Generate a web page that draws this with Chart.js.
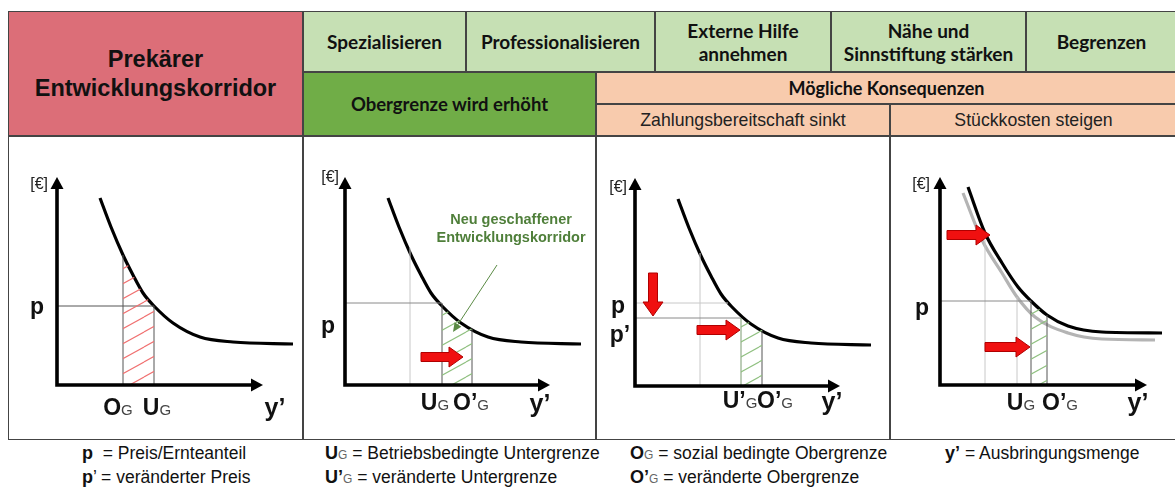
<!DOCTYPE html>
<html lang="de">
<head>
<meta charset="utf-8">
<title>Prekärer Entwicklungskorridor</title>
<script src="https://cdn.jsdelivr.net/npm/chart.js@4.4.1/dist/chart.umd.min.js"></script>
<style>
body{margin:0;width:1175px;height:487px;overflow:hidden;background:#fff;position:relative;font-family:"Liberation Sans",Arial,sans-serif;}
.z{position:absolute;box-sizing:border-box;border:1px solid #444;display:flex;align-items:center;justify-content:center;text-align:center;color:#111;}
.rot{background:#dc6e78;font-weight:700;font-size:23.5px;line-height:29px;}
.hg{background:#c6e0b4;font-family:Lato,sans-serif;font-weight:700;font-size:19px;line-height:23px;}
.dg{background:#70ad47;font-family:Lato,sans-serif;font-weight:700;font-size:18.5px;}
.or{background:#f8cbad;}
.orb{font-family:Lato,sans-serif;font-weight:700;font-size:18px;}
.orn{font-size:17.7px;color:#222;}
.pn{background:#fff;}
canvas{position:absolute;}
.lg{position:absolute;font-size:17.5px;line-height:20px;color:#111;white-space:nowrap;}
.lg b{font-size:18px;}
.lg .s{font-size:12px;color:#666;}
</style>
</head>
<body>
<div class="z rot" style="left:8px;top:11px;width:295px;height:125px">Prekärer<br>Entwicklungskorridor</div>
<div class="z hg" style="left:303px;top:11px;width:163px;height:61px">Spezialisieren</div>
<div class="z hg" style="left:466px;top:11px;width:189px;height:61px">Professionalisieren</div>
<div class="z hg" style="left:655px;top:11px;width:176px;height:61px">Externe Hilfe<br>annehmen</div>
<div class="z hg" style="left:831px;top:11px;width:195px;height:61px">Nähe und<br>Sinnstiftung stärken</div>
<div class="z hg" style="left:1026px;top:11px;width:151px;height:61px">Begrenzen</div>
<div class="z dg" style="left:303px;top:72px;width:293px;height:64px">Obergrenze wird erhöht</div>
<div class="z or orb" style="left:596px;top:72px;width:581px;height:32px">Mögliche Konsequenzen</div>
<div class="z or orn" style="left:596px;top:104px;width:294px;height:32px">Zahlungsbereitschaft sinkt</div>
<div class="z or orn" style="left:890px;top:104px;width:287px;height:32px">Stückkosten steigen</div>
<div class="z pn" style="left:8px;top:136px;width:295px;height:304px"></div>
<div class="z pn" style="left:303px;top:136px;width:293px;height:304px"></div>
<div class="z pn" style="left:596px;top:136px;width:294px;height:304px"></div>
<div class="z pn" style="left:890px;top:136px;width:287px;height:304px"></div>

<canvas id="c1"></canvas>
<canvas id="c2"></canvas>
<canvas id="c3"></canvas>
<canvas id="c4"></canvas>

<div class="lg" style="left:82px;top:443px"><b>p</b>&nbsp; = Preis/Ernteanteil</div>
<div class="lg" style="left:325px;top:443px"><b>U</b><span class="s">G</span> = Betriebsbedingte Untergrenze</div>
<div class="lg" style="left:630px;top:443px"><b>O</b><span class="s">G</span> = sozial bedingte Obergrenze</div>
<div class="lg" style="left:945px;top:443px"><b>y’</b> = Ausbringungsmenge</div>
<div class="lg" style="left:82px;top:467px"><b>p</b>’ = veränderter Preis</div>
<div class="lg" style="left:325px;top:467px"><b>U’</b><span class="s">G</span> = veränderte Untergrenze</div>
<div class="lg" style="left:630px;top:467px"><b>O’</b><span class="s">G</span> = veränderte Obergrenze</div>

<script>
// Grundkurve (Panels 1-3), Einheiten ab Achsenursprung
const kurveX = [21.5, 27, 33, 38, 43, 48.5, 58, 71.5, 88, 118];
const kurveY = [93.5, 79, 65, 55, 46, 39.5, 31, 24, 21.5, 20.5];

// Panel 4: Stückkosten alt (grau) und neu (schwarz)
const kostenAltX = [11.5, 21, 31, 38.5, 47.5, 64, 81, 107.5];
const kostenAltY = [96, 72.5, 56, 44, 34, 26, 23, 22.5];
const kostenNeuX = [14, 22.5, 31, 39, 45.5, 53.5, 64, 81, 111];
const kostenNeuY = [99, 76, 61, 49, 42, 35, 29.5, 26.5, 26];

// Preise
const preis1 = 39.5, preis2 = 41, preis3 = 41.5, preisNeu3 = 34, preis4 = 42;

// Grenzen (x) und Höhe bis zur Kurve (y)
const grenzen1X = [33, 48.5], grenzen1Y = [65, 39.5];
const grenzen2X = [32.5, 48.5, 63.5], grenzen2Y = [68.5, 41, 28];
const grenzen3X = [32.5, 53, 63.5], grenzen3Y = [66.5, 34, 28];
const grenzen4X = [22.5, 38.5, 45.5, 53.5], grenzen4Y = [72.5, 44, 42, 35];

// schraffierte Korridore
const korridor1X = [33, 38, 43, 48.5], korridor1Y = [65, 55, 46, 39.5];
const korridor2X = [48.5, 55, 63.5], korridor2Y = [39.5, 33.7, 28];
const korridor3X = [53, 58, 63.5], korridor3Y = [35.5, 31, 28];
const korridor4X = [45.5, 49, 53.5], korridor4Y = [42, 38.5, 35];

// rote Pfeile [x0, y0, x1, y1]
const pfeile2 = [[38, 14, 59, 14]];
const pfeile3 = [[9, 56.5, 9, 35], [31, 28, 52.5, 28]];
const pfeile4 = [[3.5, 75, 25, 75], [22.5, 19, 45, 19]];

// Achsenenden
const xAchseEnde = [103, 102.5, 102.5, 103.5];
const yAchseEnde = [104, 104, 104, 104];

const panels = [
  {id: 'c1', left: 9, top: 137, w: 293, h: 302, ox: 57, oy: 385},
  {id: 'c2', left: 304, top: 137, w: 291, h: 302, ox: 345, oy: 385},
  {id: 'c3', left: 597, top: 137, w: 292, h: 302, ox: 635, oy: 386},
  {id: 'c4', left: 891, top: 137, w: 284, h: 302, ox: 940, oy: 385}
];
const PX = 2;

function punkte(xs, ys) { return xs.map((x, i) => ({x: x, y: ys[i]})); }

function schraffur(farbe) {
  const c = document.createElement('canvas');
  c.width = 27; c.height = 15;
  const g = c.getContext('2d');
  g.strokeStyle = farbe; g.lineWidth = 1.1;
  for (let k = -1; k <= 1; k++) {
    g.beginPath(); g.moveTo(0, 15 + k * 15); g.lineTo(27, k * 15); g.stroke();
  }
  return g.createPattern(c, 'repeat');
}

function kurve(xs, ys, farbe) {
  return {data: punkte(xs, ys), borderColor: farbe, borderWidth: 3.2, pointRadius: 0,
    fill: false, cubicInterpolationMode: 'monotone'};
}
function linie(xs, ys, farbe) {
  return {data: punkte(xs, ys), borderColor: farbe, borderWidth: 1, pointRadius: 0, fill: false, tension: 0};
}
function korridor(xs, ys, farbe) {
  return {data: punkte(xs, ys), borderWidth: 0, pointRadius: 0, fill: 'origin',
    backgroundColor: schraffur(farbe), cubicInterpolationMode: 'monotone'};
}
function senkrechte(xs, ys, farben) {
  return xs.map((x, i) => linie([x, x], [0, ys[i]], farben[i]));
}

function blockPfeil(ctx, x0, y0, x1, y1) {
  const w = Math.atan2(y1 - y0, x1 - x0), len = Math.hypot(x1 - x0, y1 - y0);
  const kopf = 14, b = 4.5, k = 10;
  ctx.save();
  ctx.translate(x0, y0); ctx.rotate(w);
  ctx.beginPath();
  ctx.moveTo(0, -b); ctx.lineTo(len - kopf, -b); ctx.lineTo(len - kopf, -k);
  ctx.lineTo(len, 0); ctx.lineTo(len - kopf, k); ctx.lineTo(len - kopf, b); ctx.lineTo(0, b);
  ctx.closePath();
  ctx.fillStyle = '#f01010'; ctx.fill();
  ctx.strokeStyle = '#b00000'; ctx.lineWidth = 1; ctx.stroke();
  ctx.restore();
}

function text(ctx, x, y, teile, ausr) {
  let breite = 0;
  teile.forEach(t => { ctx.font = t[1]; breite += ctx.measureText(t[0]).width; });
  let cx = ausr === 'right' ? x - breite : x - breite / 2;
  const gross = parseFloat(teile[0][1].match(/(\d+(\.\d+)?)px/)[1]);
  const basis = y + gross * 0.36;
  ctx.textBaseline = 'alphabetic'; ctx.textAlign = 'left';
  teile.forEach(t => {
    ctx.font = t[1]; ctx.fillStyle = t[2] || '#111';
    ctx.fillText(t[0], cx, basis);
    cx += ctx.measureText(t[0]).width;
  });
}

const F = 'bold 23px "Liberation Sans"', FS = '15px "Liberation Sans"', FE = '16px "Liberation Sans"';
const FY = 'bold 25px "Liberation Sans"';
function idx(name, sub) { return [[name, F], [sub, FS, '#444']]; }

const skizze = {
  id: 'skizze',
  afterDatasetsDraw(chart, args, o) {
    const ctx = chart.ctx, sx = chart.scales.x, sy = chart.scales.y;
    const X = v => sx.getPixelForValue(v), Y = v => sy.getPixelForValue(v);
    ctx.save();
    // Achsen mit Pfeilspitzen
    const x0 = X(0), y0 = Y(0), xe = X(o.xEnde), ye = Y(o.yEnde), s = 12;
    ctx.strokeStyle = '#000'; ctx.fillStyle = '#000'; ctx.lineWidth = 3.6; ctx.lineJoin = 'miter';
    ctx.beginPath(); ctx.moveTo(x0, ye + s - 1); ctx.lineTo(x0, y0); ctx.lineTo(xe - s + 1, y0); ctx.stroke();
    ctx.beginPath(); ctx.moveTo(x0, ye); ctx.lineTo(x0 - 6.5, ye + s); ctx.lineTo(x0 + 6.5, ye + s); ctx.closePath(); ctx.fill();
    ctx.beginPath(); ctx.moveTo(xe, y0); ctx.lineTo(xe - s, y0 - 6.5); ctx.lineTo(xe - s, y0 + 6.5); ctx.closePath(); ctx.fill();
    // Hinweis (grün)
    if (o.hinweis) {
      const h = o.hinweis;
      ctx.strokeStyle = '#5a8a44'; ctx.fillStyle = '#5a8a44'; ctx.lineWidth = 1;
      const ax = X(h.von[0]), ay = Y(h.von[1]), bx = X(h.nach[0]), by = Y(h.nach[1]);
      const w = Math.atan2(by - ay, bx - ax);
      ctx.beginPath(); ctx.moveTo(ax, ay); ctx.lineTo(bx - 7 * Math.cos(w), by - 7 * Math.sin(w)); ctx.stroke();
      ctx.beginPath(); ctx.moveTo(bx, by);
      ctx.lineTo(bx - 9 * Math.cos(w) + 4 * Math.sin(w), by - 9 * Math.sin(w) - 4 * Math.cos(w));
      ctx.lineTo(bx - 9 * Math.cos(w) - 4 * Math.sin(w), by - 9 * Math.sin(w) + 4 * Math.cos(w));
      ctx.closePath(); ctx.fill();
      h.zeilen.forEach((z, i) => text(ctx, X(h.x), Y(h.y[i]), [[z, 'bold 14.5px "Liberation Sans"', '#4f7f3a']]));
    }
    // rote Pfeile
    (o.pfeile || []).forEach(p => blockPfeil(ctx, X(p[0]), Y(p[1]), X(p[2]), Y(p[3])));
    // Beschriftungen
    (o.texte || []).forEach(t => text(ctx, X(t.x), Y(t.y), t.teile, t.ausr));
    ctx.restore();
  }
};

const dunkel = '#555', hell = '#c8c8c8', mittel = '#8a8a8a';
const rotS = '#f07070', gruenS = '#90c080';

const inhalte = [
  {
    datasets: [
      korridor(korridor1X, korridor1Y, rotS),
      linie([0, grenzen1X[1]], [preis1, preis1], dunkel),
      ...senkrechte(grenzen1X, grenzen1Y, [dunkel, dunkel]),
      kurve(kurveX, kurveY, '#000')
    ],
    texte: [
      {x: -4.5, y: 101, teile: [['[€]', FE, '#222']], ausr: 'right'},
      {x: -10, y: 39.5, teile: [['p', F]]},
      {x: 30.5, y: -11, teile: idx('O', 'G')},
      {x: 50, y: -11, teile: idx('U', 'G')},
      {x: 109, y: -11, teile: [['y’', FY]]}
    ]
  },
  {
    datasets: [
      korridor(korridor2X, korridor2Y, gruenS),
      linie([0, grenzen2X[1]], [preis2, preis2], mittel),
      ...senkrechte(grenzen2X, grenzen2Y, [hell, dunkel, dunkel]),
      kurve(kurveX, kurveY, '#000')
    ],
    pfeile: pfeile2,
    hinweis: {x: 83, y: [83, 74], zeilen: ['Neu geschaffener', 'Entwicklungskorridor'], von: [76, 60], nach: [54, 26.5]},
    texte: [
      {x: -3, y: 104.5, teile: [['[€]', FE, '#222']], ausr: 'right'},
      {x: -8.5, y: 30, teile: [['p', F]]},
      {x: 45, y: -8.5, teile: idx('U', 'G')},
      {x: 63, y: -8.5, teile: idx('O’', 'G')},
      {x: 97.5, y: -9, teile: [['y’', FY]]}
    ]
  },
  {
    datasets: [
      korridor(korridor3X, korridor3Y, gruenS),
      linie([0, 46.5], [preis3, preis3], hell),
      linie([0, grenzen3X[1]], [preisNeu3, preisNeu3], mittel),
      ...senkrechte(grenzen3X, grenzen3Y, [hell, '#7a9a70', dunkel]),
      kurve(kurveX, kurveY, '#000')
    ],
    pfeile: pfeile3,
    texte: [
      {x: -4, y: 100, teile: [['[€]', FE, '#222']], ausr: 'right'},
      {x: -8.5, y: 40.5, teile: [['p', F]]},
      {x: -7.5, y: 26, teile: [['p’', F]]},
      {x: 52.5, y: -7, teile: idx('U’', 'G')},
      {x: 70, y: -7, teile: idx('O’', 'G')},
      {x: 98.5, y: -7.5, teile: [['y’', FY]]}
    ]
  },
  {
    datasets: [
      korridor(korridor4X, korridor4Y, gruenS),
      linie([0, grenzen4X[2]], [preis4, preis4], mittel),
      ...senkrechte(grenzen4X, grenzen4Y, [hell, hell, dunkel, dunkel]),
      kurve(kostenAltX, kostenAltY, '#b4b4b4'),
      kurve(kostenNeuX, kostenNeuY, '#000')
    ],
    pfeile: pfeile4,
    texte: [
      {x: -5, y: 101, teile: [['[€]', FE, '#222']], ausr: 'right'},
      {x: -9, y: 39, teile: [['p', F]]},
      {x: 40.5, y: -8.5, teile: idx('U', 'G')},
      {x: 60, y: -8.5, teile: idx('O’', 'G')},
      {x: 99, y: -8.5, teile: [['y’', FY]]}
    ]
  }
];

panels.forEach((p, i) => {
  const cv = document.getElementById(p.id);
  cv.width = p.w; cv.height = p.h;
  cv.style.left = p.left + 'px'; cv.style.top = p.top + 'px';
  const inh = inhalte[i];
  new Chart(cv, {
    type: 'line',
    data: {datasets: inh.datasets},
    plugins: [skizze],
    options: {
      responsive: false,
      animation: false,
      layout: {padding: 0},
      scales: {
        x: {type: 'linear', display: false, min: (p.left - p.ox) / PX, max: (p.left + p.w - p.ox) / PX},
        y: {type: 'linear', display: false, min: (p.oy - p.top - p.h) / PX, max: (p.oy - p.top) / PX}
      },
      plugins: {
        legend: {display: false},
        tooltip: {enabled: false},
        skizze: {xEnde: xAchseEnde[i], yEnde: yAchseEnde[i], pfeile: inh.pfeile, hinweis: inh.hinweis, texte: inh.texte}
      }
    }
  });
});
</script>
</body>
</html>
